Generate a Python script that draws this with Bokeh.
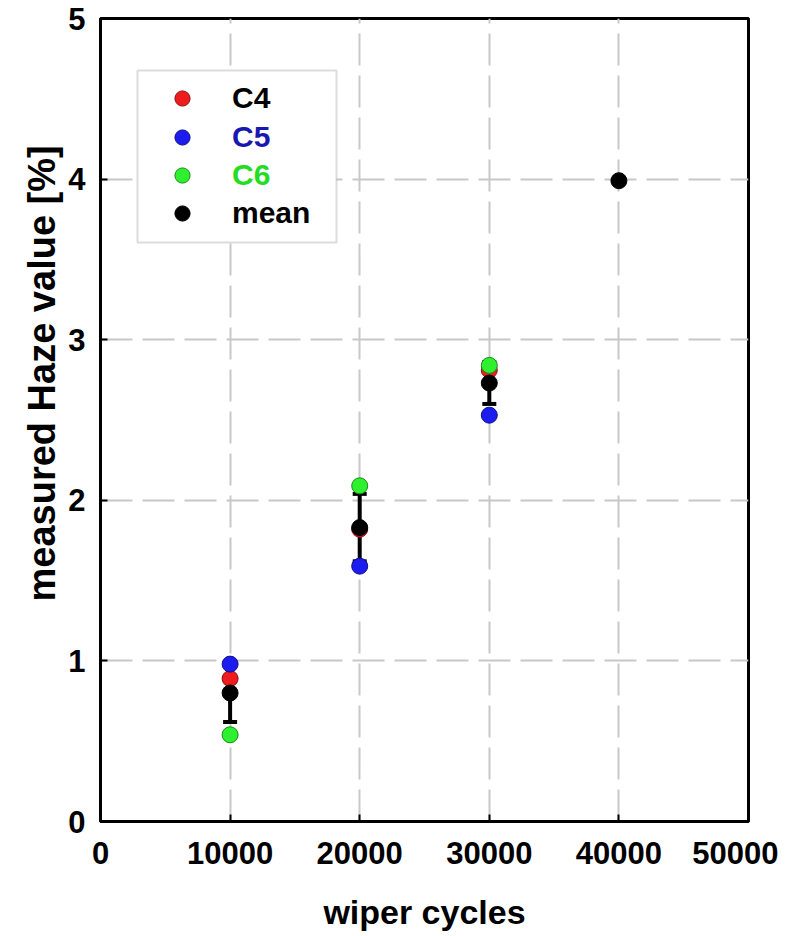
import math
from bokeh.plotting import figure
from bokeh.models import (ColumnDataSource, Range1d, FixedTicker, Whisker, TeeHead,
                          Legend, LegendItem, BoxAnnotation, Title)
from bokeh.embed import file_html
from bokeh.resources import INLINE

# ---------------- data ----------------
cycles = [10000, 20000, 30000]
c4 = [0.89, 1.82, 2.81]
c5 = [0.98, 1.59, 2.53]
c6 = [0.54, 2.09, 2.84]
mean_cycles = [10000, 20000, 30000, 40000]
mean_vals = [0.80, 1.83, 2.73, 3.99]
err_cycles = [10000, 20000, 30000]
err_lower = [0.62, 1.62, 2.60]
err_upper = [0.98, 2.04, 2.86]
x_ticks = [0, 10000, 20000, 30000, 40000, 50000]
x_tick_labels = ["0", "10000", "20000", "30000", "40000", "50000"]
y_ticks = [0, 1, 2, 3, 4, 5]
y_tick_labels = ["0", "1", "2", "3", "4", "5"]
series_names = ["C4", "C5", "C6", "mean"]

# ---------------- style ----------------
FONT = "Liberation Sans"
FILL = {"C4": "#ee1c1c", "C5": "#1c1cee", "C6": "#2ef02e", "mean": "#000000"}
EDGE = {"C4": "#8a1010", "C5": "#10108a", "C6": "#178a17", "mean": "#000000"}
TXT = {"C4": "#000000", "C5": "#1818b0", "C6": "#22dd22", "mean": "#000000"}

FW, FH = 648, 803
p = figure(frame_width=FW, frame_height=FH,
           min_border_left=100, min_border_right=30, min_border_top=18, min_border_bottom=107,
           x_range=Range1d(0, 50000), y_range=Range1d(0, 5),
           output_backend="svg", toolbar_location=None,
           background_fill_color="white", border_fill_color="white")

p.outline_line_color = "black"
p.outline_line_width = 3
p.outline_line_alpha = 1

for ax in (p.xaxis[0], p.yaxis[0]):
    ax.axis_line_width = 3
    ax.axis_line_color = "black"
    ax.major_tick_in = 7
    ax.major_tick_out = 0
    ax.major_tick_line_width = 2
    ax.minor_tick_line_color = None
    ax.major_label_text_font = FONT
    ax.major_label_text_font_style = "bold"
    ax.major_label_text_font_size = "31px"
    ax.major_label_text_color = "black"

p.xaxis.ticker = FixedTicker(ticks=x_ticks)
p.xaxis.major_label_overrides = dict(zip(x_ticks, x_tick_labels))
p.yaxis.ticker = FixedTicker(ticks=y_ticks)
p.yaxis.major_label_overrides = dict(zip(y_ticks, y_tick_labels))
p.xaxis.major_label_standoff = 20
p.yaxis.major_label_standoff = 15

p.xaxis.axis_label = "wiper cycles"
p.xaxis.axis_label_text_font = FONT
p.xaxis.axis_label_text_font_style = "bold"
p.xaxis.axis_label_text_font_size = "34px"
p.xaxis.axis_label_text_color = "black"
p.xaxis.axis_label_standoff = 26

# y axis title (placed a bit above centre, as in the reference)
ytitle = Title(text="measured Haze value [%]", align="left", offset=220,
               text_font=FONT, text_font_style="bold", text_font_size="38px",
               text_color="black", standoff=6)
p.add_layout(ytitle, "left")

for g in (p.xgrid[0], p.ygrid[0]):
    g.grid_line_color = "#c8c8c8"
    g.grid_line_width = 2
    g.grid_line_dash = "32 10"

# ---------------- data marks ----------------
SIZE = 16
src = ColumnDataSource(dict(x=cycles, c4=c4, c5=c5, c6=c6))
msrc = ColumnDataSource(dict(x=mean_cycles, y=mean_vals))
esrc = ColumnDataSource(dict(x=err_cycles, lo=err_lower, hi=err_upper))

r_c4 = p.scatter("x", "c4", source=src, size=SIZE, fill_color=FILL["C4"],
                 line_color=EDGE["C4"], line_width=1)
wh = Whisker(base="x", lower="lo", upper="hi", source=esrc, line_width=4, line_color="black",
             lower_head=TeeHead(size=14, line_width=4, line_color="black"),
             upper_head=TeeHead(size=14, line_width=4, line_color="black"))
p.add_layout(wh)
r_mean = p.scatter("x", "y", source=msrc, size=SIZE, fill_color=FILL["mean"],
                   line_color=EDGE["mean"], line_width=1)
r_c5 = p.scatter("x", "c5", source=src, size=SIZE, fill_color=FILL["C5"],
                 line_color=EDGE["C5"], line_width=1)
r_c6 = p.scatter("x", "c6", source=src, size=SIZE, fill_color=FILL["C6"],
                 line_color=EDGE["C6"], line_width=1)
renderers = {"C4": r_c4, "C5": r_c5, "C6": r_c6, "mean": r_mean}

# ---------------- legend (box + one legend per coloured entry) ----------------
box = BoxAnnotation(left=37, right=236, top=FH - 52, bottom=FH - 224,
                    left_units="screen", right_units="screen",
                    top_units="screen", bottom_units="screen",
                    fill_color="white", fill_alpha=1,
                    line_color="#8c8c8c", line_width=2)
p.add_layout(box)

row_centers = [80, 119, 157, 195]  # px from frame top
ITEM_H = 38
for name, rc in zip(series_names, row_centers):
    lg = Legend(items=[LegendItem(label=name, renderers=[renderers[name]])],
                location=(63, FH - rc - ITEM_H / 2),
                border_line_color=None, background_fill_alpha=0,
                padding=0, margin=0, spacing=0,
                glyph_width=ITEM_H, glyph_height=ITEM_H, label_height=ITEM_H,
                label_standoff=31,
                label_text_font=FONT, label_text_font_style="bold",
                label_text_font_size="30px", label_text_color=TXT[name])
    p.add_layout(lg)

html = file_html(p, INLINE)
open("out.html", "w").write(html)
